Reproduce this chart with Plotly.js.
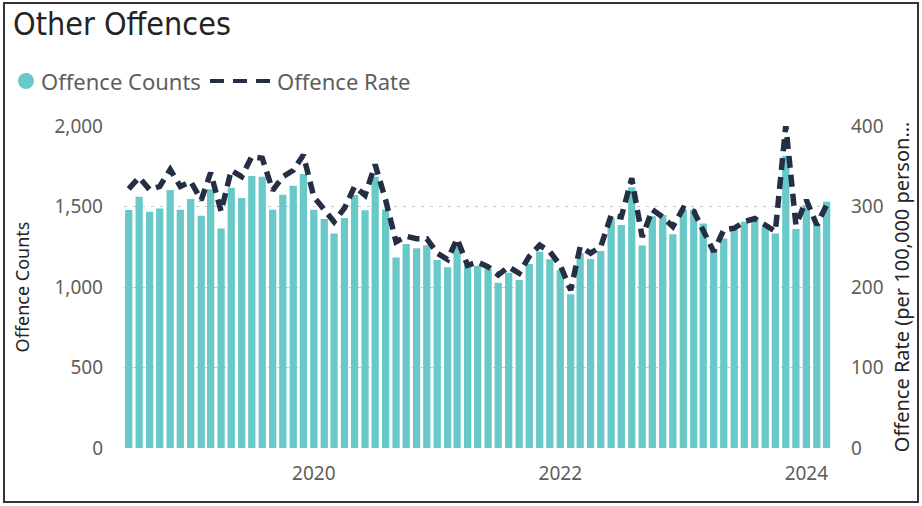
<!DOCTYPE html>
<html>
<head>
<meta charset="utf-8">
<script src="https://cdn.plot.ly/plotly-3.0.1.min.js"></script>
<style>
  html, body { margin: 0; padding: 0; background: #fff; }
  #wrap { position: relative; width: 922px; height: 506px; }
  #chart { width: 922px; height: 506px; }
  #frame { position: absolute; left: 3px; top: 2px; width: 916px; height: 501px;
           border: 2px solid #333; box-sizing: border-box; pointer-events: none; }
</style>
</head>
<body>
<div id="wrap">
  <div id="chart"></div>
  <div id="frame"></div>
</div>
<script>
const months = [
  "2018-07","2018-08","2018-09","2018-10","2018-11","2018-12",
  "2019-01","2019-02","2019-03","2019-04","2019-05","2019-06",
  "2019-07","2019-08","2019-09","2019-10","2019-11","2019-12",
  "2020-01","2020-02","2020-03","2020-04","2020-05","2020-06",
  "2020-07","2020-08","2020-09","2020-10","2020-11","2020-12",
  "2021-01","2021-02","2021-03","2021-04","2021-05","2021-06",
  "2021-07","2021-08","2021-09","2021-10","2021-11","2021-12",
  "2022-01","2022-02","2022-03","2022-04","2022-05","2022-06",
  "2022-07","2022-08","2022-09","2022-10","2022-11","2022-12",
  "2023-01","2023-02","2023-03","2023-04","2023-05","2023-06",
  "2023-07","2023-08","2023-09","2023-10","2023-11","2023-12",
  "2024-01","2024-02","2024-03"
];
const offenceCounts = [
  1478,1561,1468,1487,1602,1480,
  1546,1443,1607,1364,1617,1553,
  1689,1685,1480,1573,1629,1702,
  1480,1422,1333,1429,1571,1476,
  1685,1482,1184,1267,1240,1259,
  1168,1122,1248,1137,1132,1112,
  1027,1089,1043,1143,1219,1172,
  1106,955,1209,1174,1224,1427,
  1385,1620,1257,1440,1447,1327,
  1480,1480,1395,1225,1302,1354,
  1406,1427,1375,1333,1815,1360,
  1510,1390,1530
];
const offenceRate = [
  322,336,321,325,346,325,
  331,308,342,294,345,337,
  362,360,320,337,345,364,
  312,296,281,298,325,314,
  352,308,256,263,260,260,
  242,234,260,227,231,225,
  215,225,217,238,252,244,
  227,196,250,242,250,289,
  287,335,262,296,287,275,
  298,294,269,244,271,273,
  281,285,277,269,401,277,
  308,277,302
];
const leftTicks = [0, 500, 1000, 1500, 2000];
const rightTicks = [0, 100, 200, 300, 400];
const seriesNames = ["Offence Counts", "Offence Rate"];

const teal = "#69C8C8";
const navy = "#252F44";
const tickFont = { family: "Noto Sans, Open Sans, sans-serif", size: 19, color: "#605E5C" };
const DAY = 86400000;

// pixel -> paper helpers for the legend (plot area: x 124..833, y 126..448)
const PL = 124, PW = 709, PB = 448, PH = 322;
const px = v => (v - PL) / PW;
const py = v => (PB - v) / PH;

const traces = [
  {
    type: "bar", x: months, y: offenceCounts, name: seriesNames[0],
    marker: { color: teal }, width: 21.5 * DAY, showlegend: false
  },
  {
    type: "scatter", mode: "lines", x: months, y: offenceRate, name: seriesNames[1],
    yaxis: "y2", cliponaxis: false, showlegend: false,
    line: { color: navy, width: 5.5, dash: "12px,7px" }
  }
];

const legendFont = { family: "Noto Sans, Open Sans, sans-serif", size: 22, color: "#605E5C" };

const layout = {
  width: 922, height: 506,
  margin: { l: 124, r: 89, t: 126, b: 58 },
  paper_bgcolor: "#ffffff", plot_bgcolor: "#ffffff",
  showlegend: false,
  title: {
    text: "Other Offences", x: 13 / 922, xanchor: "left", y: 1 - 24 / 506, yanchor: "middle",
    xref: "container", yref: "container",
    font: { family: "DejaVu Sans Condensed, sans-serif", size: 32, color: "#252423" }
  },
  shapes: [
    { type: "circle", xref: "paper", yref: "paper",
      x0: px(18), x1: px(34), y0: py(89), y1: py(73),
      fillcolor: teal, line: { width: 0 } },
    { type: "line", xref: "paper", yref: "paper",
      x0: px(210), x1: px(270), y0: py(81), y1: py(81),
      line: { color: navy, width: 4, dash: "14px,9px" } }
  ],
  annotations: [
    { text: seriesNames[0], xref: "paper", yref: "paper", x: px(39), y: py(81),
      xanchor: "left", yanchor: "middle", showarrow: false, font: legendFont },
    { text: seriesNames[1], xref: "paper", yref: "paper", x: px(275), y: py(81),
      xanchor: "left", yanchor: "middle", showarrow: false, font: legendFont }
  ],
  xaxis: {
    type: "date",
    range: ["2018-06-17", "2024-03-20"],
    tick0: "2020-01-01", dtick: "M24", tickformat: "%Y",
    showgrid: false, zeroline: false, showline: false,
    ticks: "", ticklabelstandoff: 12,
    tickfont: tickFont
  },
  yaxis: {
    range: [0, 2000], tickvals: leftTicks, tickformat: ",d",
    showgrid: true, gridcolor: "#C8C8C8", griddash: "3px,6px", gridwidth: 1,
    zeroline: false, showline: false, ticks: "", ticklabelstandoff: 20,
    tickfont: tickFont,
    title: { text: "Offence Counts", font: { family: "Noto Sans, Open Sans, sans-serif", size: 18, color: "#252423" }, standoff: 20 }
  },
  yaxis2: {
    range: [0, 400], tickvals: rightTicks, overlaying: "y", side: "right",
    showgrid: false, zeroline: false, showline: false, ticks: "", ticklabelstandoff: 17,
    tickfont: tickFont,
    title: { text: "Offence Rate (per 100,000 person…", font: { family: "Noto Sans, Open Sans, sans-serif", size: 20, color: "#252423" }, standoff: 12 }
  },
  bargap: 0.28,
  hovermode: false
};

Plotly.newPlot("chart", traces, layout, { displayModeBar: false, staticPlot: true });
</script>
</body>
</html>
